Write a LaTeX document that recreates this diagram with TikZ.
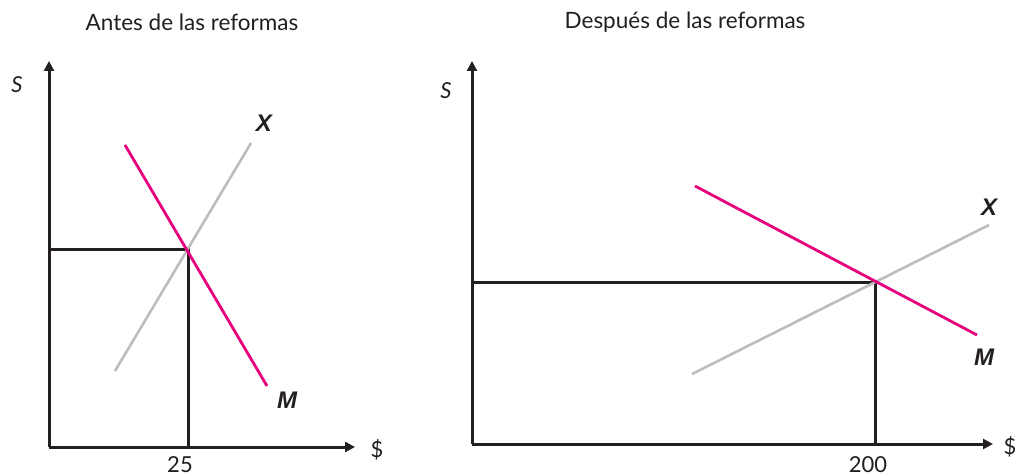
\documentclass[tikz,border=0pt]{standalone}
\usepackage{fontspec}
\setmainfont{Lato}
\newfontfamily\boldsans{Liberation Sans}
\usetikzlibrary{arrows.meta}
\definecolor{ink}{HTML}{231F20}
\definecolor{magentaline}{HTML}{E6007E}
\definecolor{grayline}{HTML}{BDBDBD}
\tikzset{
  axis/.style={draw=ink, line width=3pt, -{Triangle[length=10pt,width=10pt]}},
  guide/.style={draw=ink, line width=3pt},
  xcurve/.style={draw=grayline, line width=2.6pt},
  mcurve/.style={draw=magentaline, line width=2.8pt},
  ttl/.style={font=\fontsize{22.5}{26}\selectfont, text=ink, inner sep=0pt},
  lbl/.style={font=\fontsize{22}{26}\selectfont, text=ink, inner sep=0pt},
  slbl/.style={font=\fontsize{22}{26}\selectfont\itshape, text=ink, inner sep=0pt},
  curvelbl/.style={font=\fontsize{24}{28}\selectfont\boldsans\bfseries\itshape, text=ink, inner sep=0pt},
}
\begin{document}
\begin{tikzpicture}[x=1pt,y=-1pt]
\useasboundingbox (0,0) rectangle (1018,476);
% ---------- left panel ----------
\node[ttl] (t1) at (192,22) {Antes de las reformas};
\coordinate (O1) at (49,447);
\coordinate (Y1) at (49,61);
\coordinate (R1) at (355,447);
\coordinate (E1) at (188,249);
\coordinate (E1y) at (49,249);
\coordinate (E1x) at (188,447);
\coordinate (X1a) at (115,371);
\coordinate (X1b) at (251,143);
\coordinate (M1a) at (125,145);
\coordinate (M1b) at (267,386);
\draw[guide] (E1y) -- (E1) -- (E1x);
\draw[xcurve] (X1a) -- (X1b);
\draw[mcurve] (M1a) -- (M1b);
\draw[axis] (O1) -- (Y1);
\draw[axis] (O1) -- (R1);
\node[slbl] (s1) at (17,85) {S};
\node[lbl] (d1) at (377,450) {\$};
\node[lbl] (v1) at (180,465) {25};
\node[curvelbl] (xl1) at (264,123) {X};
\node[curvelbl] (ml1) at (287,400) {M};
% ---------- right panel ----------
\node[ttl] (t2) at (685,22) {Después de las reformas};
\coordinate (O2) at (472,444);
\coordinate (Y2) at (472,61);
\coordinate (R2) at (993,444);
\coordinate (E2) at (875,282);
\coordinate (E2y) at (472,282);
\coordinate (E2x) at (875,444);
\coordinate (X2a) at (692,374);
\coordinate (X2b) at (989,225);
\coordinate (M2a) at (695,186);
\coordinate (M2b) at (977,335);
\draw[guide] (E2y) -- (E2) -- (E2x);
\draw[xcurve] (X2a) -- (X2b);
\draw[mcurve] (M2a) -- (M2b);
\draw[axis] (O2) -- (Y2);
\draw[axis] (O2) -- (R2);
\node[slbl] (s2) at (446,91) {S};
\node[lbl] (d2) at (1010,447) {\$};
\node[lbl] (v2) at (868,465) {200};
\node[curvelbl] (xl2) at (989,207) {X};
\node[curvelbl] (ml2) at (984,357) {M};
\end{tikzpicture}
\end{document}
